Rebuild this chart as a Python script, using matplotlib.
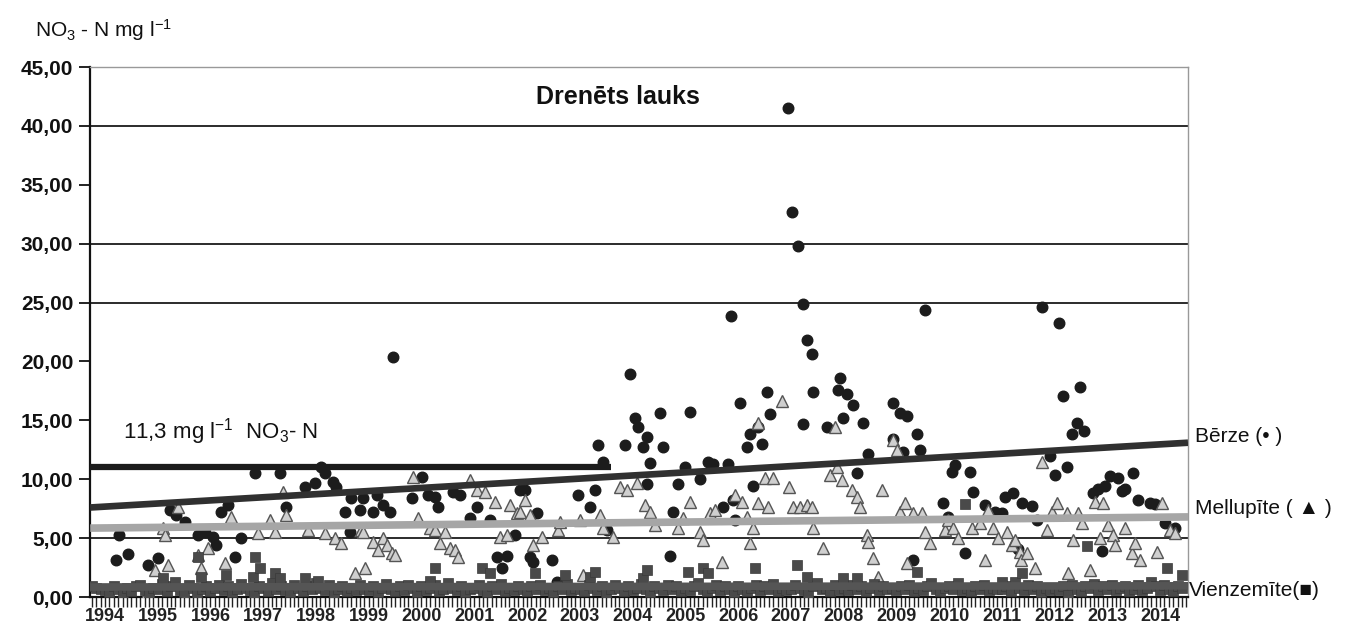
import matplotlib
matplotlib.use("Agg")
import matplotlib.pyplot as plt
from matplotlib.ticker import FixedLocator, MultipleLocator, FuncFormatter

plt.rcParams['font.family'] = ['Liberation Sans', 'DejaVu Sans']
plt.rcParams['mathtext.fontset'] = 'custom'
plt.rcParams['mathtext.rm'] = 'Liberation Sans'
plt.rcParams['mathtext.it'] = 'Liberation Sans'
plt.rcParams['mathtext.bf'] = 'Liberation Sans:bold'

# ---------------- data ----------------
years = list(range(1994, 2015))

berze_x = [1994.21, 1994.27, 1994.44, 1994.82, 1995.00, 1995.23, 1995.35, 1995.52, 1995.76, 1995.90,
           1996.05, 1996.10, 1996.20, 1996.33, 1996.46, 1996.58, 1996.84, 1997.32, 1997.43, 1997.79,
           1997.98, 1998.09, 1998.17, 1998.32, 1998.38, 1998.55, 1998.64, 1998.66, 1998.83, 1998.89,
           1999.08, 1999.16, 1999.27, 1999.40, 1999.46, 1999.82, 2000.01, 2000.12, 2000.26, 2000.31,
           2000.60, 2000.73, 2000.92, 2001.05, 2001.30, 2001.43, 2001.53, 2001.62, 2001.77, 2001.87,
           2001.96, 2002.06, 2002.11, 2002.19, 2002.47, 2002.57, 2002.97, 2003.19, 2003.29, 2003.35,
           2003.44, 2003.52, 2003.86, 2003.95, 2004.05, 2004.10, 2004.20, 2004.27, 2004.27, 2004.33,
           2004.52, 2004.58, 2004.71, 2004.77, 2004.86, 2005.00, 2005.09, 2005.28, 2005.43, 2005.53,
           2005.71, 2005.81, 2005.87, 2005.91, 2005.94, 2006.04, 2006.17, 2006.23, 2006.28, 2006.38,
           2006.45, 2006.55, 2006.61, 2006.95, 2007.02, 2007.14, 2007.23, 2007.23, 2007.31, 2007.40,
           2007.42, 2007.69, 2007.90, 2007.93, 2007.99, 2008.07, 2008.18, 2008.26, 2008.37, 2008.46,
           2008.94, 2008.94, 2009.07, 2009.13, 2009.20, 2009.32, 2009.39, 2009.45, 2009.55, 2009.89,
           2009.98, 2010.06, 2010.11, 2010.30, 2010.40, 2010.45, 2010.68, 2010.87, 2011.00, 2011.06,
           2011.21, 2011.31, 2011.38, 2011.57, 2011.67, 2011.76, 2011.91, 2012.01, 2012.09, 2012.16,
           2012.24, 2012.33, 2012.43, 2012.48, 2012.56, 2012.73, 2012.82, 2012.90, 2012.96, 2013.05,
           2013.20, 2013.28, 2013.34, 2013.49, 2013.58, 2013.81, 2013.91, 2014.09, 2014.28]
berze_y = [3.1, 5.3, 3.65, 2.7, 3.3, 7.4, 7.0, 6.4, 5.3, 5.5,
           5.1, 4.4, 7.2, 7.8, 3.4, 5.0, 10.5, 10.5, 7.6, 9.3,
           9.7, 11.0, 10.5, 9.8, 9.3, 7.2, 5.5, 8.4, 7.4, 8.4,
           7.2, 8.7, 7.8, 7.2, 20.4, 8.4, 10.2, 8.7, 8.5, 7.6,
           8.9, 8.7, 6.7, 7.6, 6.5, 3.4, 2.5, 3.5, 5.3, 9.1,
           9.1, 3.4, 3.0, 7.1, 3.1, 1.3, 8.7, 7.6, 9.1, 12.9,
           11.5, 5.7, 12.9, 18.9, 15.2, 14.4, 12.7, 13.6, 9.6, 11.4,
           15.6, 12.7, 3.5, 7.2, 9.6, 11.0, 15.7, 10.0, 11.5, 11.3,
           7.6, 11.3, 23.9, 8.2, 6.5, 16.5, 12.7, 13.8, 9.4, 14.4,
           13.0, 17.4, 15.5, 41.5, 32.7, 29.8, 24.9, 14.7, 21.8, 20.6,
           17.4, 14.4, 17.6, 18.6, 15.2, 17.2, 16.3, 10.5, 14.8, 12.1,
           16.5, 13.4, 15.6, 12.3, 15.4, 3.1, 13.8, 12.5, 24.4, 8.0,
           6.8, 10.6, 11.2, 3.7, 10.6, 8.9, 7.8, 7.2, 7.1, 8.5,
           8.8, 4.1, 8.0, 7.7, 6.5, 24.6, 12.0, 10.4, 23.3, 17.1,
           11.0, 13.8, 14.8, 17.8, 14.1, 8.8, 9.2, 3.9, 9.4, 10.3,
           10.1, 9.0, 9.2, 10.5, 8.2, 8.0, 7.9, 6.3, 5.9]

mell_x = [1994.80, 1994.95, 1995.10, 1995.14, 1995.19, 1995.38, 1995.52, 1995.76, 1995.82, 1995.95,
          1996.27, 1996.39, 1996.90, 1997.13, 1997.22, 1997.37, 1997.43, 1997.85, 1998.17, 1998.36,
          1998.47, 1998.74, 1998.85, 1998.89, 1998.93, 1999.08, 1999.18, 1999.27, 1999.35, 1999.44,
          1999.50, 1999.84, 1999.93, 2000.16, 2000.26, 2000.35, 2000.45, 2000.54, 2000.64, 2000.69,
          2000.92, 2001.05, 2001.20, 2001.39, 2001.49, 2001.62, 2001.68, 2001.81, 2001.87, 2001.96,
          2002.06, 2002.11, 2002.28, 2002.59, 2002.63, 2003.00, 2003.06, 2003.38, 2003.44, 2003.63,
          2003.76, 2003.90, 2004.09, 2004.24, 2004.33, 2004.43, 2004.86, 2004.96, 2005.09, 2005.28,
          2005.34, 2005.47, 2005.56, 2005.70, 2005.94, 2006.08, 2006.17, 2006.23, 2006.28, 2006.38,
          2006.38, 2006.51, 2006.57, 2006.66, 2006.83, 2006.97, 2007.04, 2007.18, 2007.31, 2007.40,
          2007.42, 2007.61, 2007.74, 2007.84, 2007.88, 2007.97, 2008.16, 2008.26, 2008.31, 2008.45,
          2008.46, 2008.56, 2008.65, 2008.73, 2008.94, 2009.01, 2009.07, 2009.17, 2009.20, 2009.32,
          2009.49, 2009.55, 2009.64, 2009.92, 2009.98, 2010.08, 2010.17, 2010.44, 2010.59, 2010.68,
          2010.74, 2010.83, 2010.93, 2011.10, 2011.19, 2011.25, 2011.35, 2011.37, 2011.48, 2011.63,
          2011.76, 2011.86, 2011.95, 2012.05, 2012.24, 2012.26, 2012.35, 2012.45, 2012.52, 2012.67,
          2012.77, 2012.86, 2012.92, 2013.01, 2013.11, 2013.15, 2013.34, 2013.47, 2013.53, 2013.62,
          2013.94, 2014.04, 2014.19, 2014.28]
mell_y = [0.3, 2.3, 5.9, 5.3, 2.7, 7.6, 0.2, 3.6, 2.5, 4.2,
          2.9, 6.8, 5.4, 6.5, 5.5, 8.9, 7.0, 5.7, 5.4, 5.0,
          4.6, 2.0, 5.7, 5.5, 2.5, 4.7, 4.0, 5.0, 4.4, 3.7,
          3.6, 10.2, 6.7, 5.9, 5.7, 4.6, 5.5, 4.2, 4.0, 3.4,
          9.9, 9.1, 8.9, 8.1, 5.1, 5.3, 7.8, 7.1, 7.2, 8.2,
          7.0, 4.4, 5.1, 5.7, 6.4, 6.5, 1.9, 7.0, 5.9, 5.1,
          9.3, 9.1, 9.7, 7.8, 7.2, 6.1, 5.9, 6.7, 8.1, 5.5,
          4.8, 7.1, 7.4, 3.0, 8.7, 8.1, 6.8, 4.6, 5.9, 8.0,
          14.8, 10.1, 7.6, 10.1, 16.6, 9.3, 7.6, 7.6, 7.8, 7.6,
          5.9, 4.2, 10.4, 14.4, 11.0, 9.9, 9.1, 8.5, 7.6, 5.3,
          4.7, 3.3, 1.7, 9.1, 13.3, 12.5, 7.2, 8.0, 2.9, 7.1,
          7.1, 5.5, 4.6, 5.7, 6.5, 5.9, 5.0, 5.9, 6.3, 3.1,
          7.4, 5.9, 5.0, 5.5, 4.4, 4.8, 3.8, 3.1, 3.7, 2.5,
          11.5, 5.7, 7.2, 8.0, 7.1, 2.0, 4.8, 7.1, 6.3, 2.3,
          8.1, 5.0, 8.0, 6.1, 5.3, 4.4, 5.9, 3.7, 4.6, 3.1,
          3.8, 8.0, 5.7, 5.4]

# Vienzemite: monthly samples starting Oct 1993 (dense band near the bottom)
vien_start = 1993.75
vien_band = [
    0.9, 0.8, 0.7,
    0.6, 0.4, 0.9, 0.7, 0.2, 0.8, 0.5, 0.9, 1.0, 0.6, 0.3, 0.8,
    0.7, 1.1, 0.5, 0.9, 1.3, 0.6, 0.4, 1.0, 0.8, 0.3, 0.7, 0.9,
    0.5, 0.8, 1.0, 0.6, 0.9, 0.4, 0.7, 1.1, 0.8, 0.6, 0.3, 0.9,
    0.8, 0.5, 1.2, 0.7, 0.9, 0.6, 0.4, 1.0, 0.8, 0.5, 0.9, 0.7,
    1.2, 0.8, 0.6, 1.0, 0.3, 0.7, 0.9, 0.5, 0.8, 0.6, 1.0, 0.7,
    0.6, 0.9, 0.4, 0.8, 1.1, 0.7, 0.5, 0.9, 0.6, 1.0, 0.8, 0.4,
    0.9, 0.6, 0.8, 1.0, 0.5, 0.7, 1.2, 0.8, 0.6, 0.9, 0.4, 0.7,
    0.8, 1.0, 0.6, 0.4, 0.9, 0.7, 1.1, 0.5, 0.8, 0.6, 0.9, 0.7,
    0.5, 0.9, 0.7, 1.0, 0.6, 0.8, 0.4, 0.9, 0.7, 1.1, 0.6, 0.8,
    0.7, 0.5, 1.0, 0.8, 0.6, 0.9, 0.3, 0.7, 1.0, 0.8, 0.5, 0.9,
    0.6, 0.8, 1.1, 0.7, 0.4, 0.9, 0.8, 0.6, 1.0, 0.7, 0.9, 0.5,
    0.8, 0.6, 0.9, 1.2, 0.7, 0.5, 0.8, 1.0, 0.6, 0.9, 0.7, 0.4,
    0.9, 0.7, 0.5, 0.8, 1.0, 0.6, 0.9, 0.7, 1.1, 0.5, 0.8, 0.6,
    0.7, 1.0, 0.8, 0.6, 0.3, 0.9, 1.2, 0.7, 0.8, 0.5, 1.0, 0.6,
    0.8, 0.6, 1.0, 0.7, 0.9, 0.5, 0.8, 1.1, 0.6, 0.9, 0.7, 0.8,
    0.6, 0.9, 0.7, 1.0, 0.5, 0.8, 0.6, 0.9, 1.2, 0.7, 0.5, 0.8,
    0.9, 0.7, 1.2, 0.6, 0.8, 0.5, 0.9, 0.7, 1.0, 0.6, 0.8, 0.7,
    0.7, 0.9, 0.5, 1.3, 0.8, 0.6, 1.0, 0.7, 0.9, 0.4, 0.8, 0.6,
    0.8, 0.6, 0.9, 0.2, 1.0, 0.7, 0.5, 0.9, 0.8, 1.1, 0.6, 0.9,
    0.7, 1.0, 0.6, 0.8, 0.9, 0.5, 0.7, 1.0, 0.6, 0.8, 1.3, 0.9,
    0.6, 1.0, 0.7, 0.5, 0.9, 0.8,
]
vien_x = [vien_start + i / 12 for i in range(len(vien_band))]
vien_hi_x = [1995.10, 1995.76, 1995.82, 1996.29, 1996.81, 1996.84, 1996.94, 1997.22, 1997.32, 1997.79,
             1998.04, 2000.16, 2000.26, 2001.15, 2001.30, 2002.15, 2002.72, 2003.19, 2003.29, 2004.20,
             2004.27, 2005.05, 2005.34, 2005.43, 2006.32, 2007.12, 2007.31, 2007.99, 2008.26, 2009.39,
             2010.30, 2011.00, 2011.38, 2012.62, 2014.13, 2014.42]
vien_hi_y = [1.6, 3.4, 1.7, 1.9, 1.7, 3.4, 2.5, 2.0, 1.6, 1.6,
             1.4, 1.4, 2.5, 2.5, 2.0, 2.0, 1.9, 1.7, 2.1, 1.6,
             2.3, 2.1, 2.5, 2.0, 2.5, 2.7, 1.7, 1.6, 1.6, 2.1,
             7.9, 1.3, 2.0, 4.3, 2.5, 1.9]

# linear trends and the 11.3 mg/l limit line
trend_x = [1993.72, 2014.53]
berze_trend = [7.6, 13.1]
mell_trend = [5.85, 6.8]
vien_trend = [0.85, 0.95]
limit_x = [1993.72, 2003.6]
limit_y = [11.0, 11.0]

y_ticks = [0, 5, 10, 15, 20, 25, 30, 35, 40, 45]
grid_values = [5, 25, 30, 40]

# ---------------- plot ----------------
fig = plt.figure(figsize=(13.47, 6.30), dpi=100)
ax = fig.add_axes([90 / 1347, 33 / 630, 1098 / 1347, 530 / 630])
ax.set_xlim(1993.716, 2014.53)
ax.set_ylim(0, 45)

for g in grid_values:
    ax.axhline(g, color='#1a1a1a', lw=1.3, zorder=1)

ax.plot(berze_x, berze_y, 'o', ms=7.6, color='#1c1c1c', mec='#1c1c1c', zorder=3)
ax.plot(mell_x, mell_y, '^', ms=8.6, color='#cfcfcf', mec='#555555', mew=1.0, zorder=4)
ax.plot(vien_x, vien_band, 's', ms=7.0, color='#4a4a4a', mec='#3a3a3a', mew=0.5, zorder=5)
ax.plot(vien_hi_x, vien_hi_y, 's', ms=7.0, color='#4a4a4a', mec='#3a3a3a', mew=0.5, zorder=5)

ax.plot(trend_x, vien_trend, color='#555555', lw=5.5, zorder=6, solid_capstyle='butt')
ax.plot(trend_x, mell_trend, color='#a6a6a6', lw=5.5, zorder=6, solid_capstyle='butt')
ax.plot(trend_x, berze_trend, color='#303030', lw=4.8, zorder=6, solid_capstyle='butt')
ax.plot(limit_x, limit_y, color='#1c1c1c', lw=4.5, zorder=6, solid_capstyle='butt')

# spines
for s in ['left', 'bottom']:
    ax.spines[s].set_color('#111111')
    ax.spines[s].set_linewidth(1.6)
ax.spines['top'].set_color('#999999')
ax.spines['top'].set_linestyle((0, (1, 1)))
ax.spines['top'].set_linewidth(1.0)
ax.spines['right'].set_color('#999999')
ax.spines['right'].set_linewidth(1.0)

ax.yaxis.set_major_locator(FixedLocator(y_ticks))
ax.yaxis.set_major_formatter(FuncFormatter(lambda v, p: f"{v:.2f}".replace('.', ',')))
ax.tick_params(axis='y', direction='out', length=8, width=1.3, labelsize=15, pad=4, colors='#111111')
for lab in ax.get_yticklabels():
    lab.set_fontweight('bold')

ax.xaxis.set_major_locator(FixedLocator(years))
ax.xaxis.set_major_formatter(FuncFormatter(lambda v, p: f"{int(round(v))}"))
ax.xaxis.set_minor_locator(MultipleLocator(1 / 12))
ax.tick_params(axis='x', which='both', direction='out', length=7, width=1.0, colors='#222222')
ax.tick_params(axis='x', which='major', labelsize=13, pad=1)
for lab in ax.get_xticklabels():
    lab.set_family(['Liberation Sans Narrow', 'Liberation Sans', 'DejaVu Sans'])
    lab.set_fontweight('bold')

fig.text(35 / 1347, 1 - 30 / 630, r"NO$_3$ - N mg l$^{\mathregular{-1}}$", fontsize=15,
         ha='left', va='center', color='#111111')
fig.text(618 / 1347, 1 - 97 / 630, "Drenēts lauks", fontsize=18, fontweight='bold',
         ha='center', va='center', color='#111111')
fig.text(123 / 1347, 1 - 432 / 630, r"11,3 mg l$^{\mathregular{-1}}$  NO$_3$- N", fontsize=16,
         ha='left', va='center', color='#111111')
fig.text(1195 / 1347, 1 - 437 / 630, "Bērze (• )", fontsize=15, ha='left', va='center', color='#111111')
fig.text(1195 / 1347, 1 - 508 / 630, "Mellupīte ( ▲ )", fontsize=15, ha='left', va='center', color='#111111')
fig.text(1189 / 1347, 1 - 590 / 630, "Vienzemīte(■)", fontsize=15, ha='left', va='center', color='#111111')

fig.savefig('out.png', dpi=100, facecolor='white')
